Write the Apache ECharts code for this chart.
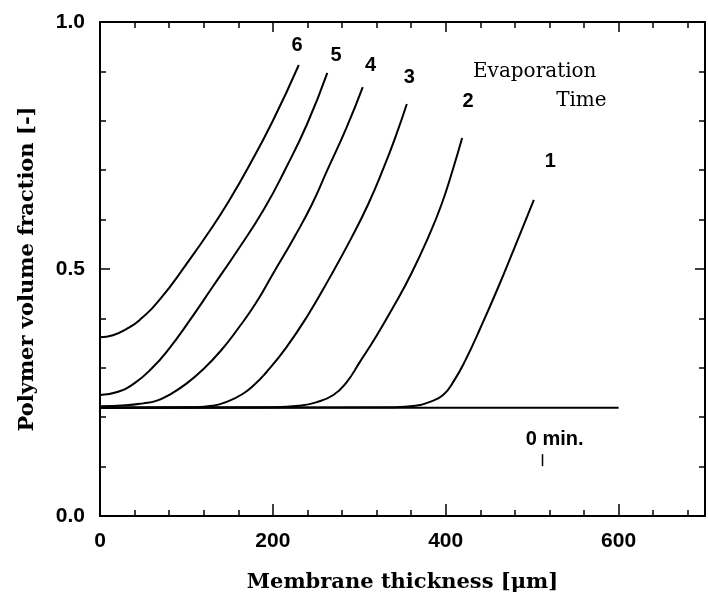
<!DOCTYPE html>
<html>
<head>
<meta charset="utf-8">
<script src="https://cdn.jsdelivr.net/npm/echarts@6/dist/echarts.min.js"></script>
<style>
  html, body { margin: 0; padding: 0; background: #fff; }
  #chart { width: 708px; height: 599px; }
</style>
</head>
<body>
<div id="chart"></div>
<script>
// membrane thickness [um] vs polymer volume fraction, one curve per evaporation time
const t0 = [[0, 0.219], [600, 0.219]]
const t1 = [[0, 0.219], [340, 0.22], [365, 0.223], [380, 0.23], [397, 0.245], [410, 0.275], [423, 0.316], [440, 0.38], [460, 0.46], [480, 0.545], [502, 0.64]]
const t2 = [[0, 0.219], [200, 0.22], [230, 0.223], [250, 0.23], [270, 0.245], [285, 0.27], [300, 0.31], [320, 0.365], [340, 0.425], [360, 0.49], [380, 0.565], [395, 0.63], [408, 0.70], [419, 0.765]]
const t3 = [[0, 0.219], [110, 0.22], [130, 0.223], [145, 0.23], [165, 0.247], [180, 0.268], [191, 0.288], [215, 0.34], [240, 0.405], [265, 0.48], [290, 0.56], [310, 0.63], [328, 0.704], [342, 0.768], [355, 0.834]]
const t4 = [[0, 0.222], [30, 0.224], [50, 0.228], [65, 0.233], [80, 0.245], [100, 0.268], [120, 0.298], [140, 0.335], [160, 0.38], [180, 0.43], [200, 0.49], [225, 0.565], [245, 0.63], [263, 0.70], [285, 0.785], [304, 0.868]]
const t5 = [[0, 0.245], [20, 0.251], [40, 0.269], [60, 0.299], [80, 0.339], [103, 0.394], [130, 0.463], [160, 0.540], [190, 0.622], [215, 0.704], [240, 0.795], [263, 0.897]]
const t6 = [[0, 0.362], [15, 0.366], [30, 0.378], [46, 0.397], [70, 0.44], [100, 0.51], [130, 0.585], [150, 0.64], [171, 0.704], [200, 0.80], [230, 0.913]]

// annotation texts at data positions
const curveLabels = [['6', 228, 0.953], ['5', 273, 0.933], ['4', 313, 0.911], ['3', 358, 0.887], ['2', 426, 0.840], ['1', 521, 0.717], ['0 min.', 526, 0.154]]
const noteLabels = [['Evaporation', 503, 0.899], ['Time', 557, 0.840]]
const smallMark = [512, 0.113]

const chart = echarts.init(document.getElementById('chart'))

function line(name, data) {
  return {
    name: name,
    type: 'line',
    data: data,
    smooth: 0.5,
    symbol: 'none',
    lineStyle: { color: '#000', width: 2 },
    xAxisIndex: 0,
    yAxisIndex: 0
  }
}

const axisLine = { show: true, onZero: false, lineStyle: { color: '#000', width: 2 } }
const sans = 'Liberation Sans, Arial, sans-serif'
const serif = 'DejaVu Serif, Liberation Serif, serif'

chart.setOption({
  animation: false,
  grid: { left: 100, right: 1, top: 22, bottom: 83 },
  xAxis: [
    {
      type: 'value', position: 'bottom', min: 0, max: 700, interval: 200,
      axisLine: axisLine,
      axisTick: { inside: true, length: 12, lineStyle: { color: '#000', width: 1.5 } },
      minorTick: { show: true, splitNumber: 5, length: 6, lineStyle: { color: '#000', width: 1.5 } },
      splitLine: { show: false },
      axisLabel: {
        margin: 15, color: '#000', fontSize: 21, fontFamily: sans, fontWeight: 'bold',
        formatter: v => (v % 200 === 0 && v <= 600) ? String(v) : ''
      },
      name: 'Membrane thickness [\u03bcm]', nameLocation: 'middle', nameGap: 56,
      nameTextStyle: { color: '#000', fontSize: 21, fontFamily: serif, fontWeight: 'bold' }
    },
    {
      type: 'value', position: 'top', min: 0, max: 700, interval: 200,
      axisLine: axisLine,
      axisTick: { inside: true, length: 10, lineStyle: { color: '#000', width: 1.5 } },
      minorTick: { show: true, splitNumber: 5, length: 6, lineStyle: { color: '#000', width: 1.5 } },
      splitLine: { show: false },
      axisLabel: { show: false }
    }
  ],
  yAxis: [
    {
      type: 'value', position: 'left', min: 0, max: 1, interval: 0.5,
      axisLine: axisLine,
      axisTick: { inside: true, length: 10, lineStyle: { color: '#000', width: 1.5 } },
      minorTick: { show: true, splitNumber: 5, length: 6, lineStyle: { color: '#000', width: 1.5 } },
      splitLine: { show: false },
      axisLabel: {
        margin: 15, color: '#000', fontSize: 21, fontFamily: sans, fontWeight: 'bold',
        formatter: v => v.toFixed(1)
      },
      name: 'Polymer volume fraction [-]', nameLocation: 'middle', nameGap: 62, nameRotate: 90,
      nameTextStyle: { color: '#000', fontSize: 21, fontFamily: serif, fontWeight: 'bold' }
    },
    {
      type: 'value', position: 'right', min: 0, max: 1, interval: 0.5,
      axisLine: axisLine,
      axisTick: { inside: true, length: 10, lineStyle: { color: '#000', width: 1.5 } },
      minorTick: { show: true, splitNumber: 5, length: 6, lineStyle: { color: '#000', width: 1.5 } },
      splitLine: { show: false },
      axisLabel: { show: false }
    }
  ],
  series: [
    line('0', t0), line('1', t1), line('2', t2), line('3', t3),
    line('4', t4), line('5', t5), line('6', t6)
  ]
})

// place annotations through the chart's own coordinate system
const toPx = p => chart.convertToPixel({ xAxisIndex: 0, yAxisIndex: 0 }, p)
const texts = []
curveLabels.forEach(([s, x, y]) => {
  const [px, py] = toPx([x, y])
  texts.push({
    type: 'text', x: px, y: py,
    style: { text: s, fill: '#000', font: 'bold 20px ' + sans, textAlign: 'center', textVerticalAlign: 'middle' }
  })
})
noteLabels.forEach(([s, x, y]) => {
  const [px, py] = toPx([x, y])
  texts.push({
    type: 'text', x: px, y: py,
    style: { text: s, fill: '#000', font: '20px ' + serif, textAlign: 'center', textVerticalAlign: 'middle' }
  })
})
const [mx, my] = toPx(smallMark)
texts.push({
  type: 'line', shape: { x1: mx, y1: my - 6, x2: mx, y2: my + 6 },
  style: { stroke: '#000', lineWidth: 1.5 }
})
chart.setOption({ graphic: texts })
</script>
</body>
</html>
